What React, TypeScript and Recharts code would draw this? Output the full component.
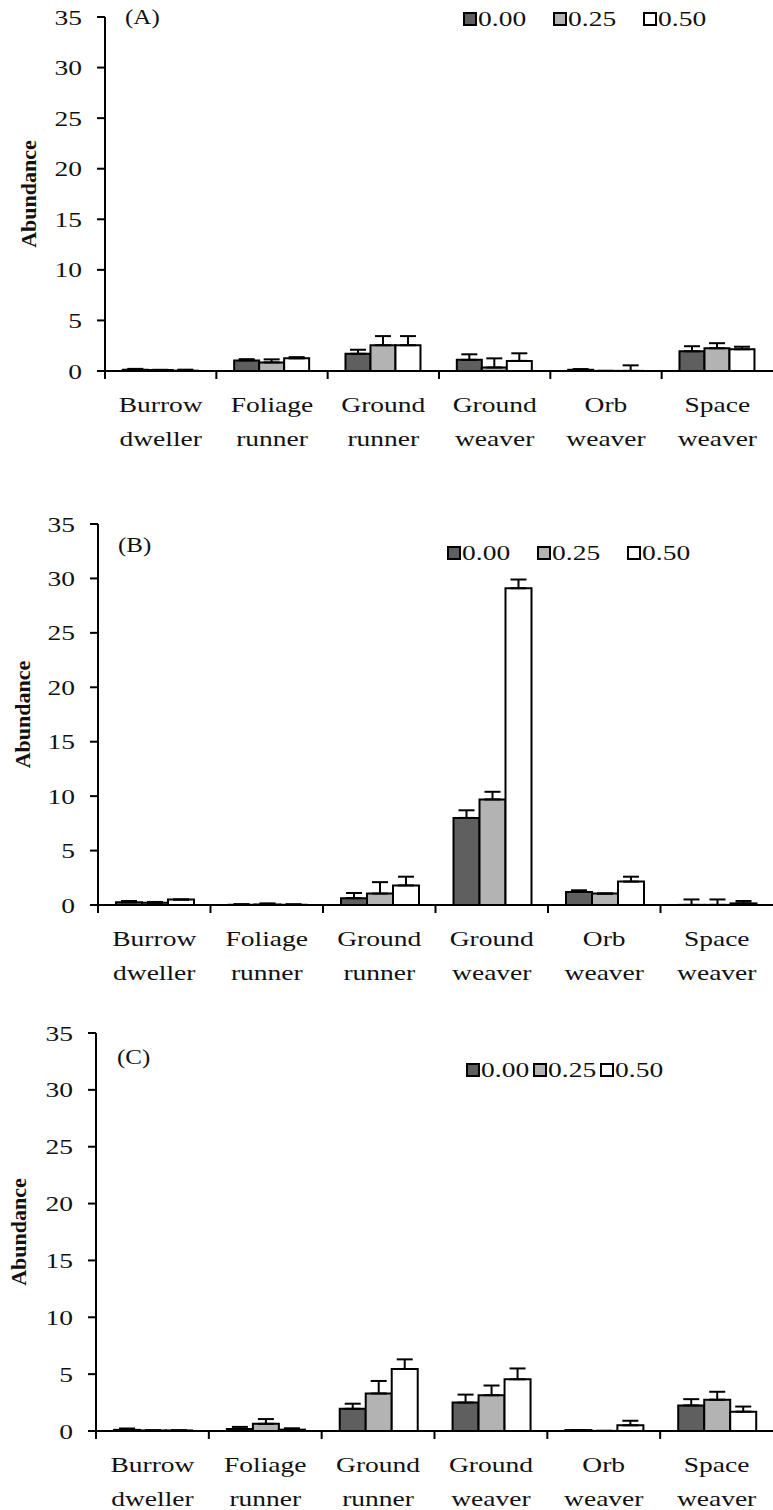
import React from 'react';
import { BarChart, Bar, XAxis, YAxis, ErrorBar, Legend } from 'recharts';

const categories = ['Burrow dweller', 'Foliage runner', 'Ground runner', 'Ground weaver', 'Orb weaver', 'Space weaver'];
const seriesNames = ['0.00', '0.25', '0.50'];
const yTicks = [0, 5, 10, 15, 20, 25, 30, 35];

// Panel A
const aMean00 = [0.13, 1.05, 1.7, 1.1, 0.12, 1.95];
const aErr00 = [0.08, 0.12, 0.4, 0.55, 0.07, 0.5];
const aMean25 = [0.1, 0.85, 2.55, 0.35, 0.01, 2.25];
const aErr25 = [0.02, 0.3, 0.9, 0.9, 0, 0.5];
const aMean50 = [0.03, 1.25, 2.55, 1.0, 0.01, 2.15];
const aErr50 = [0.1, 0.12, 0.9, 0.75, 0.55, 0.25];

// Panel B
const bMean00 = [0.25, 0.02, 0.63, 8.0, 1.2, 0.01];
const bErr00 = [0.12, 0.06, 0.47, 0.7, 0.15, 0.5];
const bMean25 = [0.2, 0.05, 1.05, 9.7, 1.05, 0.01];
const bErr25 = [0.08, 0.1, 1.05, 0.7, 0, 0.5];
const bMean50 = [0.5, 0.02, 1.8, 29.1, 2.15, 0.15];
const bErr50 = [0, 0.05, 0.8, 0.8, 0.45, 0.22];

// Panel C
const cMean00 = [0.1, 0.18, 1.95, 2.5, 0.08, 2.25];
const cErr00 = [0.12, 0.18, 0.45, 0.7, 0, 0.55];
const cMean25 = [0.05, 0.63, 3.3, 3.15, 0.01, 2.75];
const cErr25 = [0, 0.42, 1.1, 0.85, 0, 0.7];
const cMean50 = [0.05, 0.12, 5.45, 4.55, 0.5, 1.7];
const cErr50 = [0, 0.12, 0.85, 0.95, 0.4, 0.45];

const FILLS = ['#5f5f5f', '#b3b3b3', '#ffffff'];
const FONT = 'Liberation Serif, DejaVu Serif, serif';
const TXT = '#111';
const SX = 1.25;
const W = 773;

function buildRows(m0: number[], e0: number[], m1: number[], e1: number[], m2: number[], e2: number[]) {
  return categories.map((cat, i) => ({
    cat,
    s0: m0[i], e0: [0, e0[i]],
    s1: m1[i], e1: [0, e1[i]],
    s2: m2[i], e2: [0, e2[i]],
  }));
}

const panels = [
  { id: '(A)', rows: buildRows(aMean00, aErr00, aMean25, aErr25, aMean50, aErr50), axisX: 105, plotTop: 17, plotH: 354, tag: { x: 125, y: 17 }, legend: { x: 463, y: 19, gap: 90 }, titleX: 28 },
  { id: '(B)', rows: buildRows(bMean00, bErr00, bMean25, bErr25, bMean50, bErr50), axisX: 98, plotTop: 524, plotH: 381, tag: { x: 118, y: 545 }, legend: { x: 447, y: 553, gap: 90 }, titleX: 22 },
  { id: '(C)', rows: buildRows(cMean00, cErr00, cMean25, cErr25, cMean50, cErr50), axisX: 96, plotTop: 1033, plotH: 398, tag: { x: 117, y: 1057 }, legend: { x: 466, y: 1070, gap: 67 }, titleX: 18 },
];

const TOPPAD = 20;
const XAXIS_H = 110;

function XTick(props: any) {
  const { x, y, payload, bw } = props;
  const words = String(payload.value).split(' ');
  const bx = x - bw / 2;
  return (
    <g>
      <line x1={bx} x2={bx} y1={y} y2={y + 8} stroke="#000" strokeWidth={2} />
      <text transform={`translate(${x},${y + 41}) scale(${SX},1)`} textAnchor="middle" fontFamily={FONT} fontSize={22} fill={TXT}>{words[0]}</text>
      <text transform={`translate(${x},${y + 75}) scale(${SX},1)`} textAnchor="middle" fontFamily={FONT} fontSize={22} fill={TXT}>{words[1]}</text>
    </g>
  );
}

function YTick(props: any) {
  const { x, y, payload } = props;
  return (
    <text transform={`translate(${x},${y}) scale(${SX},1)`} textAnchor="end" dominantBaseline="central" fontFamily={FONT} fontSize={22} fill={TXT}>{payload.value}</text>
  );
}

function LegendBox(props: any) {
  const { gap } = props;
  return (
    <div style={{ display: 'flex', alignItems: 'center', fontFamily: FONT, fontSize: 22, color: TXT, lineHeight: '22px' }}>
      {seriesNames.map((n, i) => (
        <div key={n} style={{ display: 'flex', alignItems: 'center', width: gap }}>
          <span style={{ display: 'inline-block', width: 10, height: 10, border: '2px solid #000', background: FILLS[i], marginRight: 1 }} />
          <span style={{ display: 'inline-block', transform: `scaleX(${SX})`, transformOrigin: 'left center' }}>{n}</span>
        </div>
      ))}
    </div>
  );
}

function Panel(p: any) {
  const chartH = TOPPAD + p.plotH + XAXIS_H;
  const bw = (W - p.axisX) / categories.length;
  const top = p.plotTop - TOPPAD;
  return (
    <div style={{ position: 'absolute', left: 0, top, width: W, height: chartH }}>
      <BarChart width={W} height={chartH} data={p.rows} margin={{ top: TOPPAD, right: 0, bottom: 0, left: 0 }} barCategoryGap="16%" barGap={0}>
        <XAxis dataKey="cat" interval={0} height={XAXIS_H} tickLine={false} tickSize={0} tickMargin={0}
          axisLine={{ stroke: '#000', strokeWidth: 2 }}
          tick={(tp: any) => <XTick {...tp} bw={bw} />} />
        <YAxis width={p.axisX} domain={[0, 35]} ticks={yTicks} interval={0} tickSize={8} tickMargin={15}
          axisLine={{ stroke: '#000', strokeWidth: 2 }} tickLine={{ stroke: '#000', strokeWidth: 2 }}
          tick={(tp: any) => <YTick {...tp} />}
          label={{
            content: (lp: any) => {
              const vb = lp.viewBox || { y: TOPPAD, height: p.plotH };
              const cy = vb.y + vb.height / 2;
              return (
                <text x={p.titleX} y={cy} transform={`rotate(-90 ${p.titleX} ${cy})`} textAnchor="middle" dominantBaseline="central"
                  fontFamily={FONT} fontSize={22} fontWeight="bold" fill={TXT}>Abundance</text>
              );
            },
          }} />
        <Legend layout="horizontal" verticalAlign="middle" align="center"
          wrapperStyle={{ left: p.legend.x, top: p.legend.y - top - 11, width: 'auto', height: 22 }}
          content={() => <LegendBox gap={p.legend.gap} />} />
        {['s0', 's1', 's2'].map((k, i) => (
          <Bar key={k} dataKey={k} name={seriesNames[i]} fill={FILLS[i]} stroke="#000" strokeWidth={2} isAnimationActive={false}>
            <ErrorBar dataKey={`e${i}`} width={8} strokeWidth={2} stroke="#000" direction="y" />
          </Bar>
        ))}
      </BarChart>
      <div style={{ position: 'absolute', left: p.tag.x, top: p.tag.y - top - 12, fontFamily: FONT, fontSize: 20, color: TXT, lineHeight: '24px', transform: `scaleX(${SX})`, transformOrigin: 'left center' }}>{p.id}</div>
    </div>
  );
}

export default function App() {
  return (
    <div style={{ position: 'absolute', left: 0, top: 0, width: W, height: 1510, background: '#fff', overflow: 'hidden' }}>
      {panels.map((pp) => <Panel key={pp.id} {...pp} />)}
    </div>
  );
}
